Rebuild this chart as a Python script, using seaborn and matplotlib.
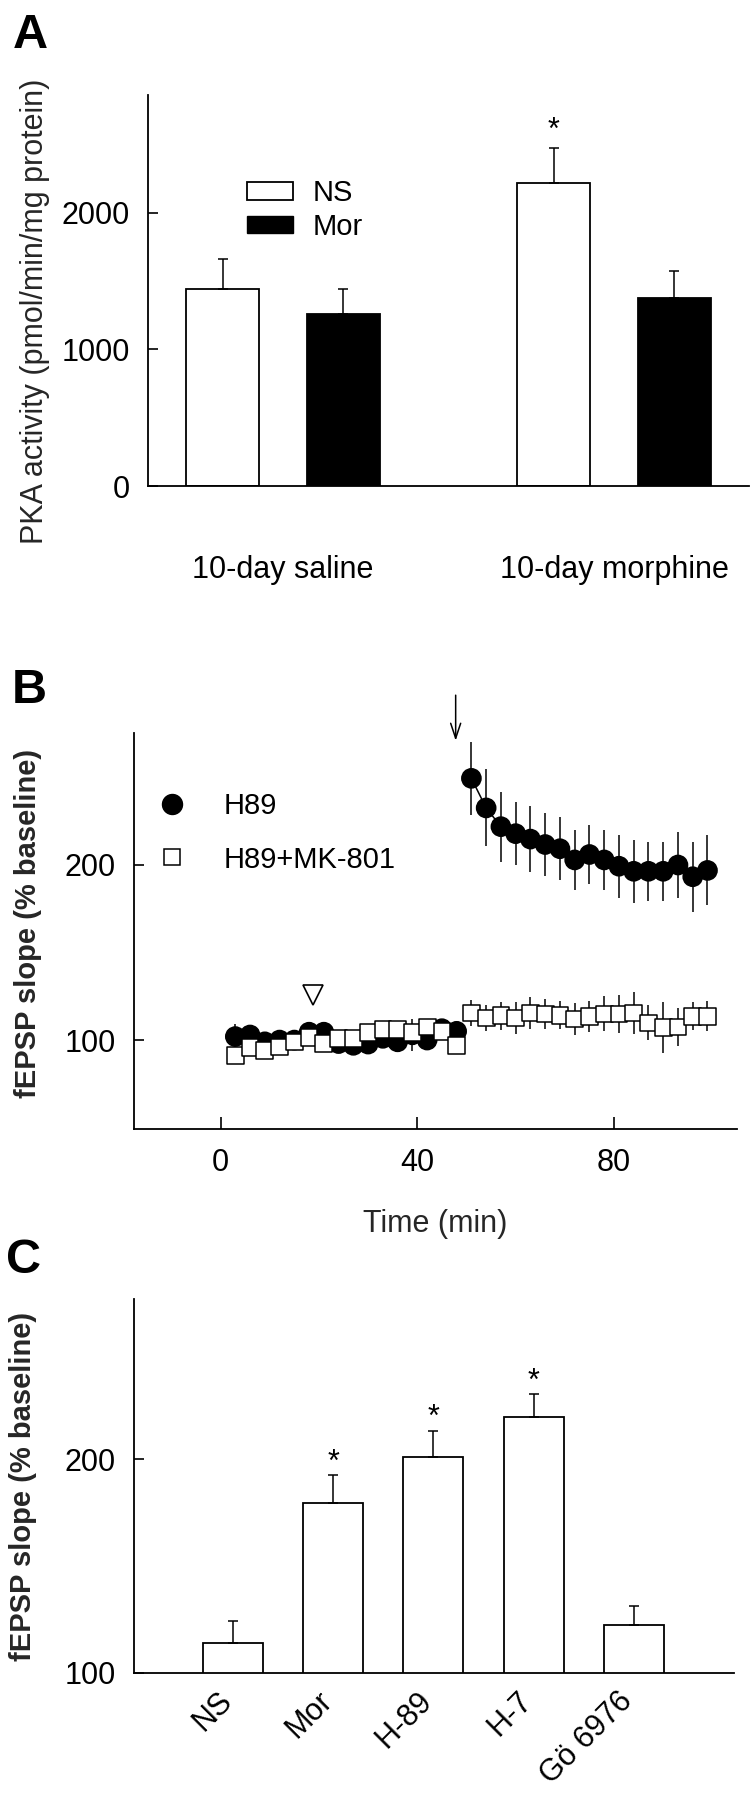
import matplotlib
matplotlib.use("Agg")
import matplotlib.pyplot as plt
import seaborn as sns
import pandas as pd
from matplotlib.patches import Patch
from matplotlib.lines import Line2D

# ---------------- data ----------------
# Panel A: PKA activity
a_conditions = ["10-day saline", "10-day morphine"]
a_groups = ["NS", "Mor"]
a_ns_mean = [1443, 2220]
a_ns_sem = [220, 256]
a_mor_mean = [1260, 1377]
a_mor_sem = [183, 198]
a_yticks = [0, 1000, 2000]

# Panel B: fEPSP time course
b_time_base = [3, 6, 9, 12, 15, 18, 21, 24, 27, 30, 33, 36, 39, 42, 45, 48]
b_time_post = [51, 54, 57, 60, 63, 66, 69, 72, 75, 78, 81, 84, 87, 90, 93, 96, 99]
b_h89_base = [102, 102.9, 99, 100, 100, 104.5, 104.5, 98, 97, 97.7, 101, 99, 103, 100, 106.5, 105]
b_h89_base_err = [7, 4, 4, 4, 4, 4, 4, 4, 4, 4, 4, 4, 9, 4, 4, 4]
b_h89_post = [249.5, 232.6, 221.9, 217.9, 214.8, 211.7, 209.3, 202.9, 206.0, 202.9,
              199.3, 196.4, 196.4, 196.4, 200.0, 193.3, 196.9]
b_h89_post_err = [21, 22, 20, 18, 19, 18, 18, 17, 17, 17, 18, 18, 17, 17, 19, 20, 20]
b_mk_base = [91, 95.7, 94.2, 96.1, 98.9, 101.4, 98.0, 101.0, 101.0, 104.2, 106.1, 106.1,
             104.2, 107.4, 105.1, 97.0]
b_mk_base_err = [3, 3, 3, 3, 3, 3, 3, 3, 3, 3, 3, 3, 3, 3, 3, 3]
b_mk_post = [115.5, 112.6, 114.0, 112.6, 115.5, 114.9, 114.1, 112.1, 113.6, 114.9,
             114.9, 115.5, 109.8, 107.0, 107.4, 113.6, 113.6]
b_mk_post_err = [7.5, 7.5, 8, 9, 9, 8.5, 8, 9, 9, 10, 11, 12, 10, 14.5, 11, 8, 8.5]
b_series = ["H89", "H89+MK-801"]
b_xticks = [0, 40, 80]
b_yticks = [100, 200]
b_drug_time, b_drug_level = 18.8, 126        # open triangle (drug application)
b_tetanus_time = 47.8                          # arrow (tetanus)
b_arrow_from, b_arrow_to = 297, 271

# Panel C: fEPSP summary
c_categories = ["NS", "Mor", "H-89", "H-7", "Gö 6976"]
c_mean = [113.9, 179.6, 201.1, 219.8, 122.4]
c_sem = [10.3, 12.9, 12.3, 10.6, 9.0]
c_signif = [False, True, True, True, False]
c_yticks = [100, 200]

# ---------------- style ----------------
sns.set_theme(style="white")
plt.rcParams["font.family"] = ["Liberation Sans", "DejaVu Sans"]
plt.rcParams["axes.linewidth"] = 1.3
plt.rcParams["axes.edgecolor"] = "black"
plt.rcParams["xtick.color"] = "black"
plt.rcParams["ytick.color"] = "black"
plt.rcParams["text.color"] = "black"

W, H = 754, 1800
fig = plt.figure(figsize=(W / 100, H / 100), dpi=100)

def rect(left, right, top, bottom):
    return [left / W, 1 - bottom / H, (right - left) / W, (bottom - top) / H]

TICK_FS = 22
LEG_FS = 21
LAB_FS = 22
BLAB_FS = 21

# ================= Panel A =================
axA = fig.add_axes(rect(148, 749, 95, 486))
dfA = pd.DataFrame({
    "condition": a_conditions * 2,
    "group": [a_groups[0]] * 2 + [a_groups[1]] * 2,
    "value": a_ns_mean + a_mor_mean,
})
sns.barplot(data=dfA, x="condition", y="value", hue="group", order=a_conditions,
            hue_order=a_groups, palette={"NS": "white", "Mor": "black"},
            edgecolor="black", linewidth=1.3, width=0.73, gap=0.395,
            errorbar=None, legend=False, ax=axA)
for cont, means, sems in zip(axA.containers, [a_ns_mean, a_mor_mean], [a_ns_sem, a_mor_sem]):
    xs = [p.get_x() + p.get_width() / 2 for p in cont.patches]
    axA.errorbar(xs, means, yerr=[[0] * len(sems), sems], fmt="none", ecolor="black",
                 elinewidth=1.1, capsize=3.8, capthick=1.1, zorder=1)
p = axA.containers[0].patches[1]
axA.annotate("*", xy=(p.get_x() + p.get_width() / 2, a_ns_mean[1] + a_ns_sem[1]),
             xytext=(0, 6.5), textcoords="offset points", ha="center", va="baseline",
             fontsize=TICK_FS)
axA.set_xlim(-0.408, 1.408)
axA.set_ylim(0, 2864)
axA.set_yticks(a_yticks)
axA.set_yticklabels([str(v) for v in a_yticks])
axA.set_xlabel("")
axA.set_ylabel("PKA activity (pmol/min/mg protein)", fontsize=LAB_FS)
axA.yaxis.set_label_coords(-0.163, 0.448)
axA.tick_params(axis="y", direction="in", length=7, width=1.2, labelsize=TICK_FS, pad=13, left=True)
axA.tick_params(axis="x", length=0, labelsize=TICK_FS, pad=50)
sns.despine(ax=axA)
axA.legend(handles=[Patch(facecolor="white", edgecolor="black", linewidth=1.3, label="NS"),
                    Patch(facecolor="black", edgecolor="black", label="Mor")],
           loc="upper left", bbox_to_anchor=(0.165, 0.785), frameon=False,
           fontsize=LEG_FS, handlelength=1.58, handleheight=0.55,
           handletextpad=0.68, labelspacing=0.2, borderpad=0, borderaxespad=0)

# ================= Panel B =================
axB = fig.add_axes(rect(134, 737, 733, 1129))
rows = []
for seg, (tt, vv, ee) in enumerate([(b_time_base, b_h89_base, b_h89_base_err),
                                    (b_time_post, b_h89_post, b_h89_post_err)]):
    for t, v, e in zip(tt, vv, ee):
        rows.append({"time": t, "value": v, "err": e, "series": b_series[0], "seg": f"h{seg}"})
for seg, (tt, vv, ee) in enumerate([(b_time_base, b_mk_base, b_mk_base_err),
                                    (b_time_post, b_mk_post, b_mk_post_err)]):
    for t, v, e in zip(tt, vv, ee):
        rows.append({"time": t, "value": v, "err": e, "series": b_series[1], "seg": f"m{seg}"})
dfB = pd.DataFrame(rows)

for s in b_series:
    sub = dfB[dfB.series == s]
    axB.errorbar(sub.time, sub.value, yerr=sub.err, fmt="none", ecolor="black",
                 elinewidth=1.1, capsize=0, zorder=1)
sns.lineplot(data=dfB, x="time", y="value", hue="series", units="seg", estimator=None,
             palette={b_series[0]: "black", b_series[1]: "black"}, linewidth=1.1,
             legend=False, ax=axB, zorder=2)
sns.scatterplot(data=dfB, x="time", y="value", hue="series", style="series", size="series",
                markers={b_series[0]: "o", b_series[1]: "s"},
                sizes={b_series[0]: 190, b_series[1]: 145},
                palette={b_series[0]: "black", b_series[1]: "white"},
                edgecolor="black", linewidth=1.1, legend=False, ax=axB, zorder=3)
axB.plot([b_drug_time], [b_drug_level], marker="v", ms=14, mfc="white", mec="black",
         mew=1.2, ls="none", clip_on=False)
axB.annotate("", xy=(b_tetanus_time, b_arrow_to), xytext=(b_tetanus_time, b_arrow_from),
             xycoords="data", annotation_clip=False,
             arrowprops=dict(arrowstyle="->,head_length=0.9,head_width=0.3",
                             color="black", lw=1.1, shrinkA=0, shrinkB=0))
axB.set_xlim(-17.6, 105)
axB.set_ylim(49.2, 275.4)
axB.set_xticks(b_xticks)
axB.set_yticks(b_yticks)
axB.set_xlabel("Time (min)", fontsize=LAB_FS, labelpad=22)
axB.set_ylabel("fEPSP slope (% baseline)", fontsize=BLAB_FS, fontweight="bold")
axB.yaxis.set_label_coords(-0.153, 0.52)
axB.tick_params(axis="x", direction="in", length=9, width=1.2, labelsize=TICK_FS, pad=14, bottom=True)
axB.tick_params(axis="y", direction="in", length=7, width=1.2, labelsize=TICK_FS, pad=13, left=True)
sns.despine(ax=axB)
axB.legend(handles=[Line2D([], [], marker="o", ls="none", ms=14.4, mfc="black", mec="black", label="H89"),
                    Line2D([], [], marker="s", ls="none", ms=11.5, mfc="white", mec="black",
                           mew=1.1, label="H89+MK-801")],
           loc="upper left", bbox_to_anchor=(0.039, 0.851), frameon=False, fontsize=LEG_FS,
           handlelength=1.0, handletextpad=1.25, labelspacing=0.88, borderpad=0, borderaxespad=0)

# ================= Panel C =================
axC = fig.add_axes(rect(134, 734, 1299, 1673))
dfC = pd.DataFrame({"cond": c_categories, "value": c_mean})
sns.barplot(data=dfC, x="cond", y="value", order=c_categories, color="white",
            edgecolor="black", linewidth=1.3, width=0.6, errorbar=None, ax=axC)
bars = axC.containers[0].patches
xs = [p.get_x() + p.get_width() / 2 for p in bars]
axC.errorbar(xs, c_mean, yerr=[[0] * len(c_sem), c_sem], fmt="none", ecolor="black",
             elinewidth=1.1, capsize=3.8, capthick=1.1, zorder=1)
for x, m, e, sg in zip(xs, c_mean, c_sem, c_signif):
    if sg:
        axC.annotate("*", xy=(x, m + e), xytext=(0, 3.5), textcoords="offset points",
                     ha="center", va="baseline", fontsize=TICK_FS)
axC.set_xlim(-0.988, 5.0)
axC.set_ylim(100, 275)
axC.set_yticks(c_yticks)
axC.set_xticks(range(len(c_categories)))
axC.set_xticklabels(c_categories, rotation=45, ha="right", va="baseline", rotation_mode="anchor")
axC.set_xlabel("")
axC.set_ylabel("fEPSP slope (% baseline)", fontsize=BLAB_FS, fontweight="bold")
axC.yaxis.set_label_coords(-0.162, 0.5)
axC.tick_params(axis="x", length=0, labelsize=TICK_FS, pad=21)
axC.tick_params(axis="y", direction="in", length=7, width=1.2, labelsize=TICK_FS, pad=13, left=True)
sns.despine(ax=axC)

# panel letters
for letter, x, ybase in [("A", 13, 48), ("B", 12, 703), ("C", 6, 1273)]:
    fig.text(x / W, 1 - ybase / H, letter, fontsize=35, fontweight="bold", ha="left", va="baseline")

fig.savefig("out.png", dpi=100, facecolor="white")
